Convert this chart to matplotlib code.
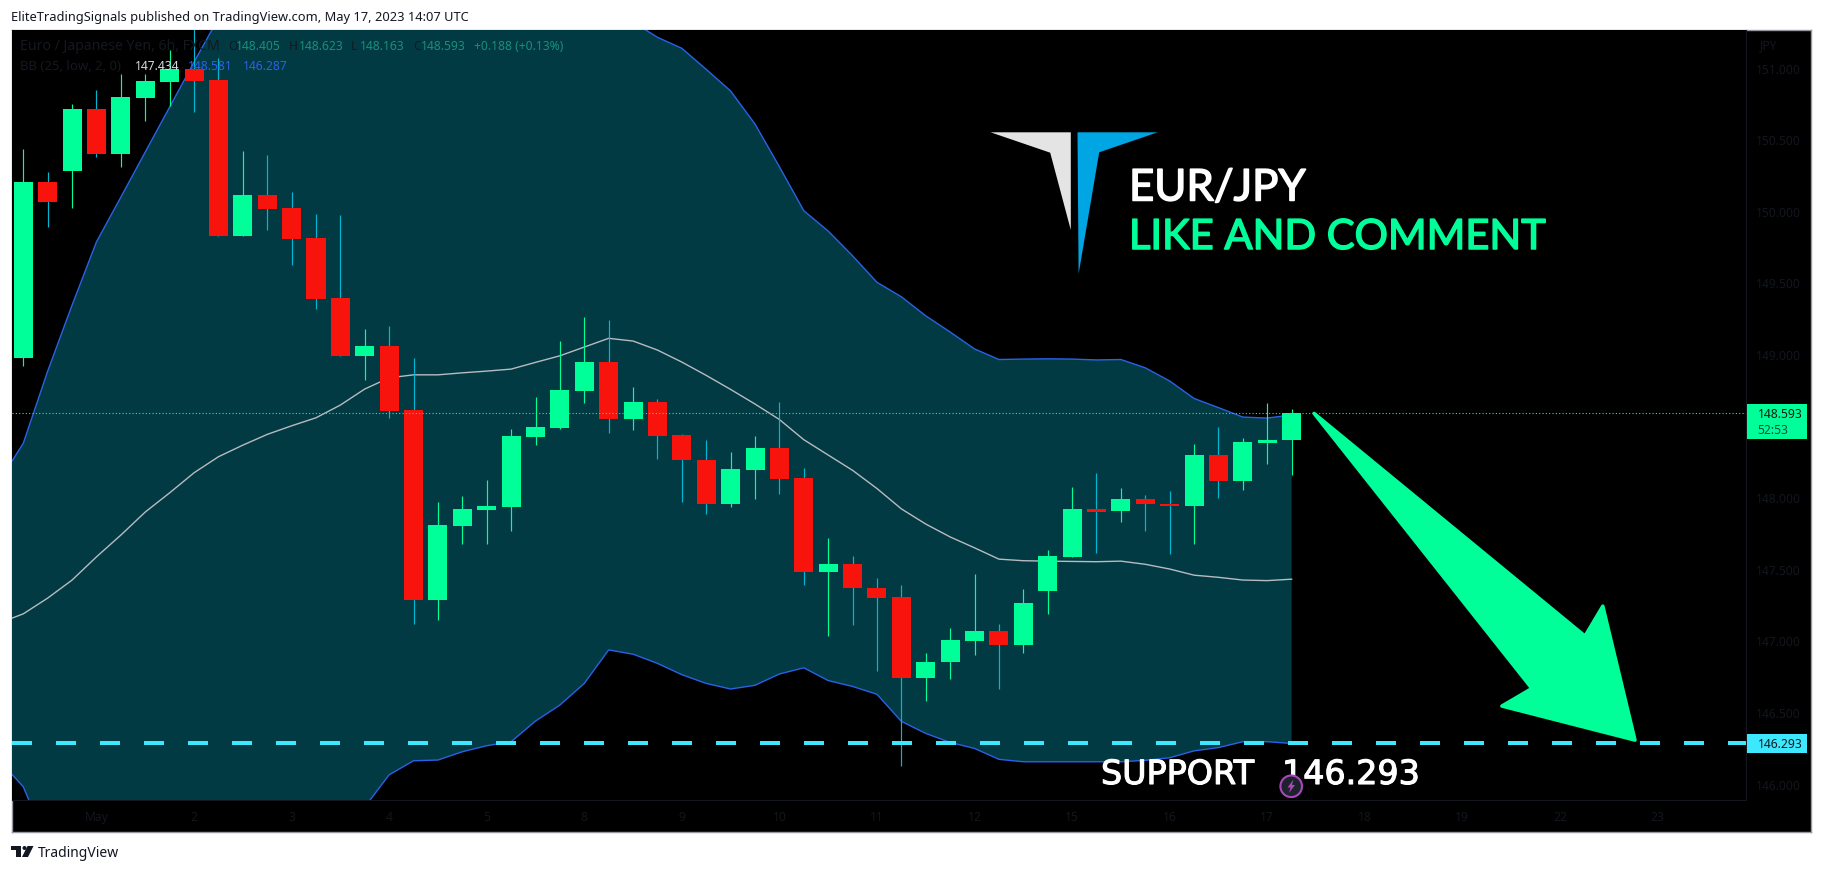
import matplotlib
matplotlib.use("Agg")
import matplotlib.pyplot as plt
import matplotlib.patheffects as pe
from matplotlib.patches import Polygon, Circle, Rectangle
from matplotlib.transforms import IdentityTransform

W, H = 1823, 872

OPEN = [148.980,150.207,150.284,150.717,150.405,150.796,150.907,150.996,150.919,149.832,
        150.116,150.026,149.816,149.397,148.994,149.062,148.615,147.288,147.805,147.917,
        147.938,148.426,148.489,148.748,148.950,148.556,148.671,148.442,148.266,147.956,
        148.199,148.350,148.141,147.487,147.541,147.375,147.312,146.741,146.854,147.004,
        147.075,146.974,147.350,147.588,147.925,147.907,147.993,147.961,147.945,148.301,
        148.123,148.388,148.405]
HIGH = [150.438,150.277,150.752,150.850,150.961,150.961,151.129,151.280,151.073,150.424,
        150.396,150.137,149.984,149.977,149.181,149.201,148.978,147.972,148.014,148.126,
        148.482,148.708,149.097,149.264,149.243,148.778,148.693,148.449,148.405,148.322,
        148.433,148.671,148.210,147.724,147.597,147.444,147.396,146.919,147.095,147.472,
        147.123,147.368,147.637,148.077,148.177,148.072,148.021,148.049,148.377,148.498,
        148.421,148.665,148.623]
LOW = [148.924,149.893,150.028,150.384,150.314,150.635,150.738,150.698,149.832,149.832,
       149.872,149.627,149.322,148.994,148.826,148.559,147.123,147.148,147.679,147.679,
       147.770,148.370,148.482,148.664,148.454,148.479,148.276,147.970,147.887,147.940,
       147.996,148.032,147.396,147.040,147.111,146.795,146.129,146.581,146.734,146.902,
       146.665,146.918,147.190,147.588,147.614,147.831,147.767,147.607,147.683,148.004,
       148.060,148.241,148.163]
CLOSE = [150.207,150.070,150.717,150.405,150.801,150.912,150.996,150.914,149.832,150.116,
         150.019,149.809,149.392,148.994,149.062,148.608,147.288,147.812,147.924,147.945,
         148.433,148.496,148.755,148.950,148.556,148.671,148.433,148.264,147.956,148.205,
         148.350,148.136,147.487,147.541,147.370,147.304,146.741,146.859,147.011,147.075,
         146.974,147.269,147.597,147.925,147.905,147.993,147.956,147.945,148.301,148.123,
         148.393,148.405,148.593]

# Bollinger bands, first value belongs to the bar just before the window
BB_UPPER = [148.112,148.384,148.887,149.348,149.790,150.102,150.417,150.731,151.045,151.352,
            151.60,151.75,151.85,151.90,151.95,151.95,151.95,151.95,151.90,151.85,
            151.80,151.75,151.70,151.60,151.50,151.42,151.324,151.218,151.141,150.994,
            150.843,150.612,150.314,150.007,149.865,149.692,149.507,149.406,149.273,149.160,
            149.042,148.968,148.971,148.973,148.971,148.965,148.968,148.910,148.818,148.696,
            148.632,148.566,148.559,148.581]
BB_BASIS = [147.127,147.192,147.302,147.428,147.590,147.742,147.903,148.037,148.177,148.289,
            148.370,148.445,148.505,148.561,148.650,148.762,148.840,148.861,148.861,148.875,
            148.887,148.901,148.948,148.994,149.055,149.116,149.097,149.034,148.950,148.857,
            148.759,148.657,148.549,148.408,148.301,148.194,148.067,147.925,147.819,147.729,
            147.653,147.574,147.563,147.560,147.558,147.556,147.560,147.538,147.505,147.462,
            147.447,147.428,147.424,147.434]
BB_LOWER = [146.171,145.984,145.577,145.30,145.10,145.00,145.00,145.05,145.10,145.15,
            145.20,145.25,145.35,145.45,145.65,145.843,146.068,146.166,146.171,146.229,
            146.271,146.299,146.443,146.555,146.706,146.940,146.910,146.846,146.767,146.706,
            146.667,146.693,146.772,146.815,146.726,146.685,146.630,146.441,146.357,146.294,
            146.252,146.176,146.159,146.159,146.159,146.159,146.159,146.169,146.187,146.235,
            146.258,146.299,146.299,146.287]

LAST_PRICE = 148.593
SUPPORT = 146.293
ARROW_BAR = [52.92, 64.03, 64.76, 66.08, 60.62, 61.85]
ARROW_PRICE = [148.592, 147.037, 147.246, 146.310, 146.548, 146.671]

DAY_BARS = [3, 7, 11, 15, 19, 23, 27, 31, 35, 39, 43, 47, 51, 55, 59, 63, 67]
DAY_LABELS = ["May", "2", "3", "4", "5", "8", "9", "10", "11", "12", "15", "16", "17", "18", "19", "22", "23"]
PRICE_TICKS = [146.0, 146.5, 147.0, 147.5, 148.0, 149.0, 149.5, 150.0, 150.5, 151.0]

GREEN, RED = "#00FF99", "#F8130D"
RED_WICK = "#00B8D4"
BAND_FILL = "#023A43"
BAND_LINE = "#2962E6"
BASIS_LINE = "#B7BBC2"
CYAN = "#3DE8FF"
FAINT = "#13161D"
SMALL = "Noto Sans"

fig = plt.figure(figsize=(W / 100, H / 100), dpi=100, facecolor="white")


def rect(l, t, r, b):
    return [l / W, 1 - b / H, (r - l) / W, (b - t) / H]


def ftext(x, y, s, **kw):
    kw.setdefault("va", "center")
    kw.setdefault("family", SMALL)
    return fig.text(x / W, 1 - y / H, s, **kw)


def pts(seq):
    return [(x, H - y) for x, y in seq]


def poly(seq, **kw):
    p = Polygon(pts(seq), closed=True, transform=IdentityTransform(), **kw)
    fig.add_artist(p)
    return p


# black frame behind the pane and both scales
bg = fig.add_axes(rect(11.5, 30, 1811, 832), facecolor="black")
bg.set_xticks([])
bg.set_yticks([])
for s in bg.spines.values():
    s.set_color("#9598A1")
    s.set_linewidth(1.0)

ax = fig.add_axes(rect(11.6, 30, 1746, 800), facecolor="black")
ax.set_xlim(-0.48, 70.63)
ax.set_ylim(145.892, 151.269)

xs = list(range(len(OPEN)))
bbx = [-1] + xs
ax.fill_between(bbx, BB_LOWER, BB_UPPER, color=BAND_FILL, lw=0, zorder=1)
ax.plot(bbx, BB_UPPER, color=BAND_LINE, lw=1.0, zorder=2)
ax.plot(bbx, BB_LOWER, color=BAND_LINE, lw=1.0, zorder=2)
ax.plot(bbx, BB_BASIS, color=BASIS_LINE, lw=1.0, zorder=2)

body_col = [GREEN if c > o else RED for o, c in zip(OPEN, CLOSE)]
wick_col = [GREEN if c > o else RED_WICK for o, c in zip(OPEN, CLOSE)]
ax.vlines(xs, LOW, HIGH, colors=wick_col, lw=0.85, zorder=3)
ax.bar(xs, [abs(c - o) for o, c in zip(OPEN, CLOSE)], bottom=[min(o, c) for o, c in zip(OPEN, CLOSE)],
       width=0.78, color=body_col, lw=0, zorder=4)

ax.axhline(LAST_PRICE, color=GREEN, lw=0.8, ls=(0, (1, 2)), zorder=5)
ax.axhline(SUPPORT, color=CYAN, lw=2.88, ls=(0, (5.0, 6.0)), dash_capstyle="butt", zorder=6)
ax.add_patch(Polygon(list(zip(ARROW_BAR, ARROW_PRICE)), closed=True, facecolor=GREEN, edgecolor=GREEN,
                     lw=2.5, joinstyle="round", zorder=7))

ax.set_xticks(DAY_BARS, DAY_LABELS)
ax.set_yticks(PRICE_TICKS, [f"{p:.3f}" for p in PRICE_TICKS])
ax.tick_params(axis="x", length=0, pad=8, labelsize=8.7, labelcolor=FAINT)
ax.tick_params(axis="y", length=0, pad=7, labelsize=8.7, labelcolor=FAINT,
               left=False, right=False, labelleft=False, labelright=True)
for lab in ax.get_xticklabels() + ax.get_yticklabels():
    lab.set_family(SMALL)
for side, sp in ax.spines.items():
    sp.set_visible(side in ("bottom", "right"))
    sp.set_color(FAINT)
    sp.set_linewidth(0.8)

# header and footer
ftext(11, 17, "EliteTradingSignals published on TradingView.com, May 17, 2023 14:07 UTC",
      fontsize=9.25, color="#131722")
ftext(38, 853, "TradingView", fontsize=10, color="#131722")
poly([(11, 846), (21, 846), (21, 857), (15.5, 857), (15.5, 850), (11, 850)], facecolor="#131722", lw=0)
fig.add_artist(Circle((24.5, H - 848), 2, transform=IdentityTransform(), facecolor="#131722", lw=0))
poly([(27.5, 846), (33.5, 846), (28, 857), (22, 857)], facecolor="#131722", lw=0)

# legend
DIM = "#14181F"
TEAL = "#1A8F78"
ftext(20.5, 47, "Euro / Japanese Yen, 6h, FXCM", fontsize=10.1, color=DIM, zorder=9)
for x, s, c in [(228, "O", DIM), (235.5, "148.405", TEAL), (289, "H", DIM), (299, "148.623", TEAL),
                (351, "L", DIM), (360, "148.163", TEAL), (413, "C", DIM), (421, "148.593", TEAL),
                (474, "+0.188 (+0.13%)", TEAL)]:
    ftext(x, 47, s, fontsize=8.7, color=c, zorder=9)
ftext(20.5, 66, "BB (25, low, 2, 0)", fontsize=9.5, color=DIM, zorder=9)
ftext(134.5, 66, "147.434", fontsize=8.7, color="#D8DAE0", zorder=9)
ftext(188, 66, "148.581", fontsize=8.7, color=BAND_LINE, zorder=9)
ftext(243, 66, "146.287", fontsize=8.7, color=BAND_LINE, zorder=9)
ftext(1768.5, 46, "JPY", fontsize=8.7, color=FAINT, ha="center", zorder=9)

# price scale labels
fig.add_artist(Rectangle((1746.5, H - 439), 60, 35, transform=IdentityTransform(), facecolor=GREEN, lw=0, zorder=8))
ftext(1758, 414, "148.593", fontsize=8.7, color="#0B1A14", zorder=9)
ftext(1757, 431, "52:53", fontsize=8.7, color="#0A4F3A", zorder=9)
fig.add_artist(Rectangle((1746.5, H - 752.5), 60, 18.5, transform=IdentityTransform(), facecolor=CYAN, lw=0, zorder=8))
ftext(1758, 744, "146.293", fontsize=8.7, color="#0B1A20", zorder=9)

# logo and captions
poly([(990.6, 132.3), (1070.8, 132.3), (1070.8, 230), (1050.2, 152.7)], facecolor="#E4E4E4", lw=0, zorder=8)
poly([(1077.5, 132.3), (1157.7, 132.3), (1099.2, 152.3), (1078.6, 274)], facecolor="#00A5E3", lw=0, zorder=8)
ftext(1129, 188, "EUR/JPY", fontsize=31.5, color="white", family="Lato", zorder=9,
      path_effects=[pe.withStroke(linewidth=1.1, foreground="white")])
ftext(1129, 237, "LIKE AND COMMENT", fontsize=30, color=GREEN, family="Lato", zorder=9,
      path_effects=[pe.withStroke(linewidth=1.1, foreground=GREEN)])
ftext(1101, 774.5, "SUPPORT", fontsize=24, color="white", family="DejaVu Sans", zorder=9,
      path_effects=[pe.withStroke(linewidth=0.8, foreground="white")])
ftext(1282, 774.5, "146.293", fontsize=24, color="white", family="DejaVu Sans", zorder=9,
      path_effects=[pe.withStroke(linewidth=0.8, foreground="white")])

# alert badge
fig.add_artist(Circle((1291.2, H - 786.3), 10.8, transform=IdentityTransform(), facecolor="#1E222D",
                      edgecolor="#AB47BC", lw=1.5, zorder=10))
poly([(1293.5, 779.5), (1287.5, 787.5), (1290.5, 787.5), (1289, 793), (1295, 785), (1292, 785)],
     facecolor="#AB47BC", lw=0, zorder=11)

fig.savefig("out.png", dpi=100, facecolor="white")
